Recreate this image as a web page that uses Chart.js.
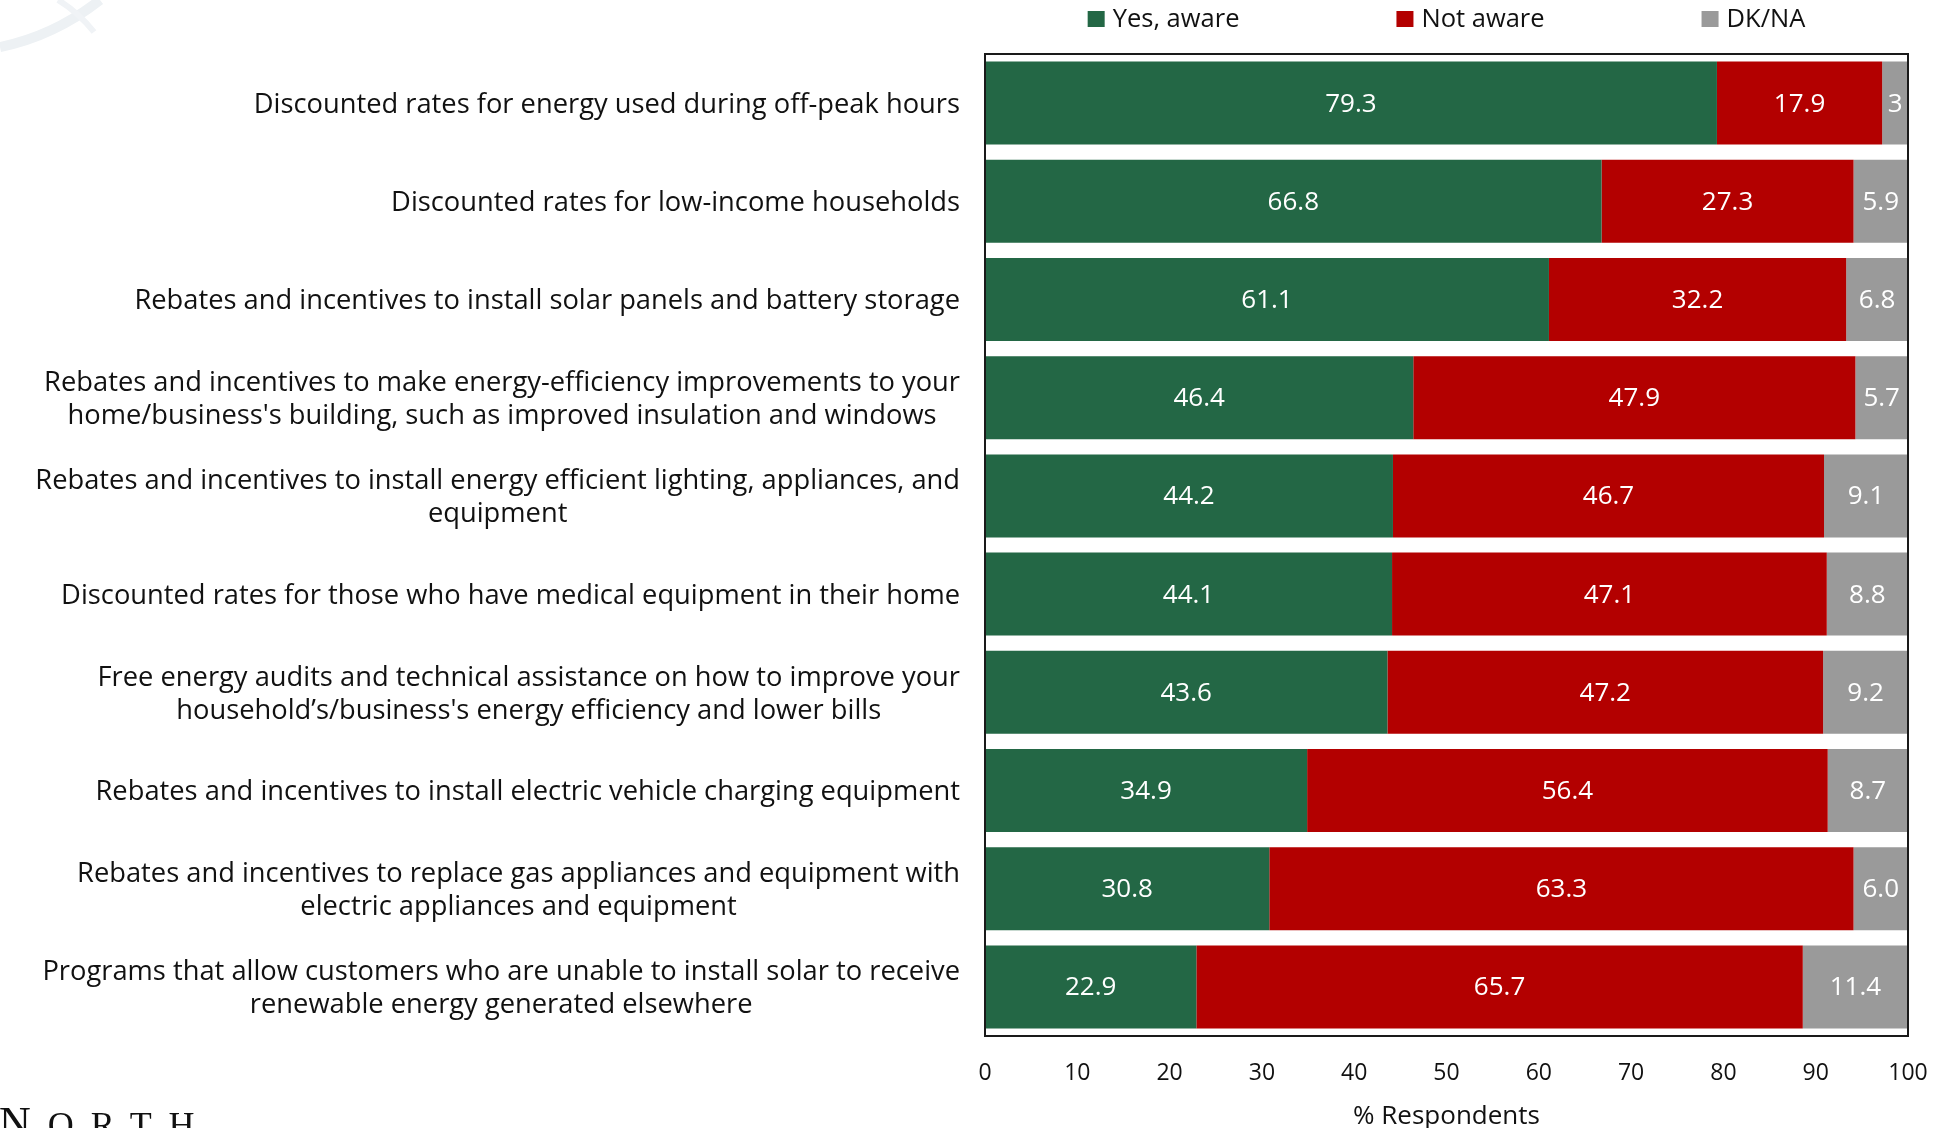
<!DOCTYPE html>
<html>
<head>
<meta charset="utf-8">
<title>Program awareness</title>
<script src="https://cdn.jsdelivr.net/npm/chart.js@4.4.1/dist/chart.umd.min.js"></script>
<style>
  html, body { margin: 0; padding: 0; background: #ffffff; overflow: hidden; }
  #wrap { position: relative; width: 1939px; height: 1128px; }
  #logoMark { position: absolute; left: 0; top: 0; }
  #brand {
    position: absolute; left: -1px; top: 1101px;
    font-family: "Liberation Serif", serif; font-size: 36px;
    letter-spacing: 17px; line-height: 1; color: #111111; white-space: nowrap;
  }
  #brand .cap { font-size: 44px; }
</style>
</head>
<body>
<div id="wrap">
  <canvas id="chart"></canvas>
  <svg id="logoMark" width="140" height="70" viewBox="0 0 140 70">
    <path d="M0,47 Q54,36 100,0" fill="none" stroke="#edf1f4" stroke-width="10"/>
    <path d="M58,0 Q78,12 94,32" fill="none" stroke="#f0f3f6" stroke-width="6"/>
  </svg>
  <div id="brand"><span class="cap">N</span>ORTH</div>
</div>
<script>
// Programs, one entry per bar (each entry is the list of label lines)
const programs = [
  ['Discounted rates for energy used during off-peak hours'],
  ['Discounted rates for low-income households'],
  ['Rebates and incentives to install solar panels and battery storage'],
  ['Rebates and incentives to make energy-efficiency improvements to your',
   "home/business's building, such as improved insulation and windows"],
  ['Rebates and incentives to install energy efficient lighting, appliances, and',
   'equipment'],
  ['Discounted rates for those who have medical equipment in their home'],
  ['Free energy audits and technical assistance on how to improve your',
   "household\u2019s/business's energy efficiency and lower bills"],
  ['Rebates and incentives to install electric vehicle charging equipment'],
  ['Rebates and incentives to replace gas appliances and equipment with',
   'electric appliances and equipment'],
  ['Programs that allow customers who are unable to install solar to receive',
   'renewable energy generated elsewhere']
];

// Percent of respondents
const yesAware = [79.3, 66.8, 61.1, 46.4, 44.2, 44.1, 43.6, 34.9, 30.8, 22.9];
const notAware = [17.9, 27.3, 32.2, 47.9, 46.7, 47.1, 47.2, 56.4, 63.3, 65.7];
const dkNa     = ['3', '5.9', '6.8', '5.7', '9.1', '8.8', '9.2', '8.7', '6.0', '11.4'];

const seriesNames = ['Yes, aware', 'Not aware', 'DK/NA'];
const xTicks = [0, 10, 20, 30, 40, 50, 60, 70, 80, 90, 100];
const axisTitle = '% Respondents';

const COLORS = ['#236745', '#b30000', '#9a9a9a'];
const FONT = '"Open Sans", "DejaVu Sans", sans-serif';
const TEXT = '#111111';

// Category labels: right-aligned block, lines centred inside the block
const categoryLabels = {
  id: 'categoryLabels',
  afterDraw(chart) {
    const { ctx, chartArea } = chart;
    const yScale = chart.scales.y;
    const lineH = 33;
    const rightEdge = chartArea.left - 25;
    ctx.save();
    ctx.font = '27.3px ' + FONT;
    ctx.fillStyle = TEXT;
    ctx.textAlign = 'center';
    ctx.textBaseline = 'middle';
    programs.forEach((lines, i) => {
      const cy = yScale.getPixelForValue(i) + 2;
      const w = Math.max(...lines.map(l => ctx.measureText(l).width));
      const cx = rightEdge - w / 2;
      lines.forEach((line, k) => {
        ctx.fillText(line, cx, cy + (k - (lines.length - 1) / 2) * lineH);
      });
    });
    ctx.restore();
  }
};

// Value labels centred in each visible bar segment, plus the frame around the plot
const segmentValues = {
  id: 'segmentValues',
  afterDatasetsDraw(chart) {
    const { ctx, chartArea } = chart;
    ctx.save();
    ctx.font = '26px ' + FONT;
    ctx.fillStyle = '#ffffff';
    ctx.textAlign = 'center';
    ctx.textBaseline = 'middle';
    chart.data.datasets.forEach((ds, di) => {
      const meta = chart.getDatasetMeta(di);
      meta.data.forEach((bar, i) => {
        const start = Math.max(Math.min(bar.base, bar.x), chartArea.left);
        const end = Math.min(Math.max(bar.base, bar.x), chartArea.right);
        ctx.fillText(ds.valueText[i], (start + end) / 2, bar.y + 1);
      });
    });
    ctx.strokeStyle = '#1a1a1a';
    ctx.lineWidth = 2;
    ctx.strokeRect(chartArea.left, chartArea.top, chartArea.right - chartArea.left, chartArea.bottom - chartArea.top);
    ctx.restore();
  }
};

// Legend row centred over the plot area
const topLegend = {
  id: 'topLegend',
  afterDraw(chart) {
    const { ctx, chartArea } = chart;
    const boxW = 17, boxH = 16, gapText = 8, gapItem = 157, cy = 19;
    ctx.save();
    ctx.font = '25.5px ' + FONT;
    ctx.textBaseline = 'middle';
    ctx.textAlign = 'left';
    const widths = chart.data.datasets.map(ds => boxW + gapText + ctx.measureText(ds.label).width);
    const total = widths.reduce((a, b) => a + b, 0) + gapItem * (widths.length - 1);
    let x = (chartArea.left + chartArea.right) / 2 - total / 2;
    chart.data.datasets.forEach((ds, i) => {
      ctx.fillStyle = ds.backgroundColor;
      ctx.fillRect(x, cy - boxH / 2, boxW, boxH);
      ctx.fillStyle = TEXT;
      ctx.fillText(ds.label, x + boxW + gapText, cy + 1);
      x += widths[i] + gapItem;
    });
    ctx.restore();
  }
};

function build() {
  const ctx = document.getElementById('chart');
  new Chart(ctx, {
    type: 'bar',
    data: {
      labels: programs,
      datasets: [
        { label: seriesNames[0], data: yesAware, backgroundColor: COLORS[0],
          valueText: yesAware.map(v => v.toFixed(1)) },
        { label: seriesNames[1], data: notAware, backgroundColor: COLORS[1],
          valueText: notAware.map(v => v.toFixed(1)) },
        { label: seriesNames[2], data: dkNa.map(Number), backgroundColor: COLORS[2],
          valueText: dkNa }
      ]
    },
    options: {
      indexAxis: 'y',
      responsive: true,
      maintainAspectRatio: false,
      animation: false,
      datasets: { bar: { categoryPercentage: 1.0, barPercentage: 0.845, borderWidth: 0 } },
      layout: { padding: { top: 54, right: 31, left: 0, bottom: 0 } },
      plugins: { legend: { display: false }, tooltip: { enabled: false } },
      scales: {
        x: {
          stacked: true,
          min: 0,
          max: 100,
          afterBuildTicks: s => { s.ticks = xTicks.map(v => ({ value: v })); },
          afterFit: s => { s.height = 92; s.paddingLeft = 0; s.paddingRight = 0; },
          grid: { display: false, drawTicks: false },
          border: { display: false },
          ticks: { font: { family: FONT, size: 23 }, color: TEXT, padding: 24, maxRotation: 0 },
          title: { display: true, text: axisTitle, color: TEXT,
                   font: { family: FONT, size: 26 }, padding: { top: 0, bottom: -4 } }
        },
        y: {
          stacked: true,
          afterFit: s => { s.width = 985; },
          grid: { display: false, drawTicks: false },
          border: { display: false },
          ticks: { display: false }
        }
      }
    },
    plugins: [segmentValues, categoryLabels, topLegend]
  });
}

Promise.all([
  document.fonts.load('27px "Open Sans"'),
  document.fonts.load('44px "Liberation Serif"')
]).catch(() => {}).then(build);
</script>
</body>
</html>
